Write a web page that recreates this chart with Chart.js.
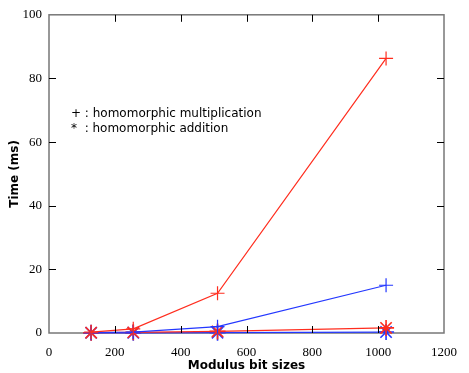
<!DOCTYPE html>
<html>
<head>
<meta charset="utf-8">
<script src="https://cdn.jsdelivr.net/npm/chart.js@4"></script>
<style>
  body { margin: 0; background: #fff; }
  #wrap { width: 469px; height: 373px; }
</style>
</head>
<body>
<div id="wrap"><canvas id="timeChart"></canvas></div>
<script>
// modulus sizes (bits)
const bitSizes = [128, 256, 512, 1024];
// times in ms
const multRed = [0.3, 1.3, 12.5, 86.3];
const multBlue = [0.1, 0.3, 2.0, 15.0];
const addRed = [0.1, 0.2, 0.5, 1.6];
const addBlue = [0.05, 0.05, 0.1, 0.3];

const xTicks = [0, 200, 400, 600, 800, 1000, 1200];
const yTicks = [0, 20, 40, 60, 80, 100];

const legendLines = ['+ : homomorphic multiplication', '*  : homomorphic addition'];

const RED = 'rgb(255,45,30)';
const BLUE = 'rgb(35,55,255)';

function toPoints(vals) {
    return bitSizes.map((b, i) => ({ x: b, y: vals[i] }));
}

function makeSet(label, vals, color, style, radius, pw) {
    return {
        label: label,
        data: toPoints(vals),
        showLine: true,
        clip: false,
        borderColor: color,
        backgroundColor: color,
        borderWidth: 1.2,
        pointStyle: style,
        pointRadius: radius,
        pointBorderWidth: pw,
        pointBorderColor: color
    };
}

// inward tick marks on all four sides
const innerTicks = {
    id: 'innerTicks',
    afterDraw(chart) {
        const ctx = chart.ctx;
        const a = chart.chartArea;
        const xs = chart.scales.x, ys = chart.scales.y;
        ctx.save();
        ctx.strokeStyle = '#000';
        ctx.lineWidth = 1;
        ctx.beginPath();
        xTicks.slice(1, -1).forEach(v => {
            const px = Math.round(xs.getPixelForValue(v)) + 0.5;
            ctx.moveTo(px, a.bottom); ctx.lineTo(px, a.bottom - 7);
            ctx.moveTo(px, a.top); ctx.lineTo(px, a.top + 7);
        });
        yTicks.slice(1, -1).forEach(v => {
            const py = Math.round(ys.getPixelForValue(v)) + 0.5;
            ctx.moveTo(a.left, py); ctx.lineTo(a.left + 7, py);
            ctx.moveTo(a.right, py); ctx.lineTo(a.right - 7, py);
        });
        ctx.stroke();
        // legend text
        ctx.fillStyle = '#000';
        ctx.font = '12px "DejaVu Sans"';
        ctx.textBaseline = 'middle';
        ctx.fillText(legendLines[0], a.left + 22, a.top + 99);
        ctx.fillText(legendLines[1], a.left + 22, a.top + 114);
        ctx.restore();
    }
};

// frame drawn beneath the data
const frame = {
    id: 'frame',
    beforeDatasetsDraw(chart) {
        const ctx = chart.ctx;
        const a = chart.chartArea;
        ctx.save();
        ctx.strokeStyle = '#777';
        ctx.lineWidth = 1.5;
        ctx.strokeRect(a.left, a.top, a.right - a.left, a.bottom - a.top);
        ctx.restore();
    }
};

const ctx = document.getElementById('timeChart').getContext('2d');
const timeChart = new Chart(ctx, {
    type: 'scatter',
    data: {
        datasets: [
            makeSet('mult red', multRed, RED, 'cross', 7, 1.2),
            makeSet('mult blue', multBlue, BLUE, 'cross', 7, 1.2),
            makeSet('add red', addRed, RED, 'star', 8, 1.6),
            makeSet('add blue', addBlue, BLUE, 'star', 8, 1.6)
        ]
    },
    options: {
        responsive: true,
        maintainAspectRatio: false,
        animation: false,
        layout: { padding: { top: 14, right: 15, left: 0, bottom: 0 } },
        plugins: {
            legend: { display: false },
            tooltip: { enabled: false }
        },
        scales: {
            x: {
                type: 'linear',
                min: 0,
                max: 1200,
                afterBuildTicks: s => { s.ticks = xTicks.map(v => ({ value: v })); },
                afterFit: s => { s.height = 40; },
                grid: { display: false, drawTicks: false },
                border: { display: false },
                ticks: {
                    padding: 12,
                    color: '#000',
                    font: { family: '"Liberation Serif"', size: 13 },
                    maxRotation: 0,
                    callback: v => String(v)
                },
                title: {
                    display: true,
                    text: 'Modulus bit sizes',
                    color: '#000',
                    font: { family: '"DejaVu Sans"', size: 12, weight: 'bold' },
                    padding: { top: 0, bottom: 0 }
                }
            },
            y: {
                min: 0,
                max: 100,
                afterBuildTicks: s => { s.ticks = yTicks.map(v => ({ value: v })); },
                afterFit: s => { s.width = 49; },
                grid: { display: false, drawTicks: false },
                border: { display: false },
                ticks: {
                    padding: 7,
                    color: '#000',
                    font: { family: '"Liberation Serif"', size: 13 },
                    callback: v => String(v)
                },
                title: {
                    display: true,
                    text: 'Time (ms)',
                    color: '#000',
                    font: { family: '"DejaVu Sans"', size: 12, weight: 'bold' },
                    padding: { top: 8, bottom: 0 }
                }
            }
        }
    },
    plugins: [frame, innerTicks]
});
</script>
</body>
</html>
